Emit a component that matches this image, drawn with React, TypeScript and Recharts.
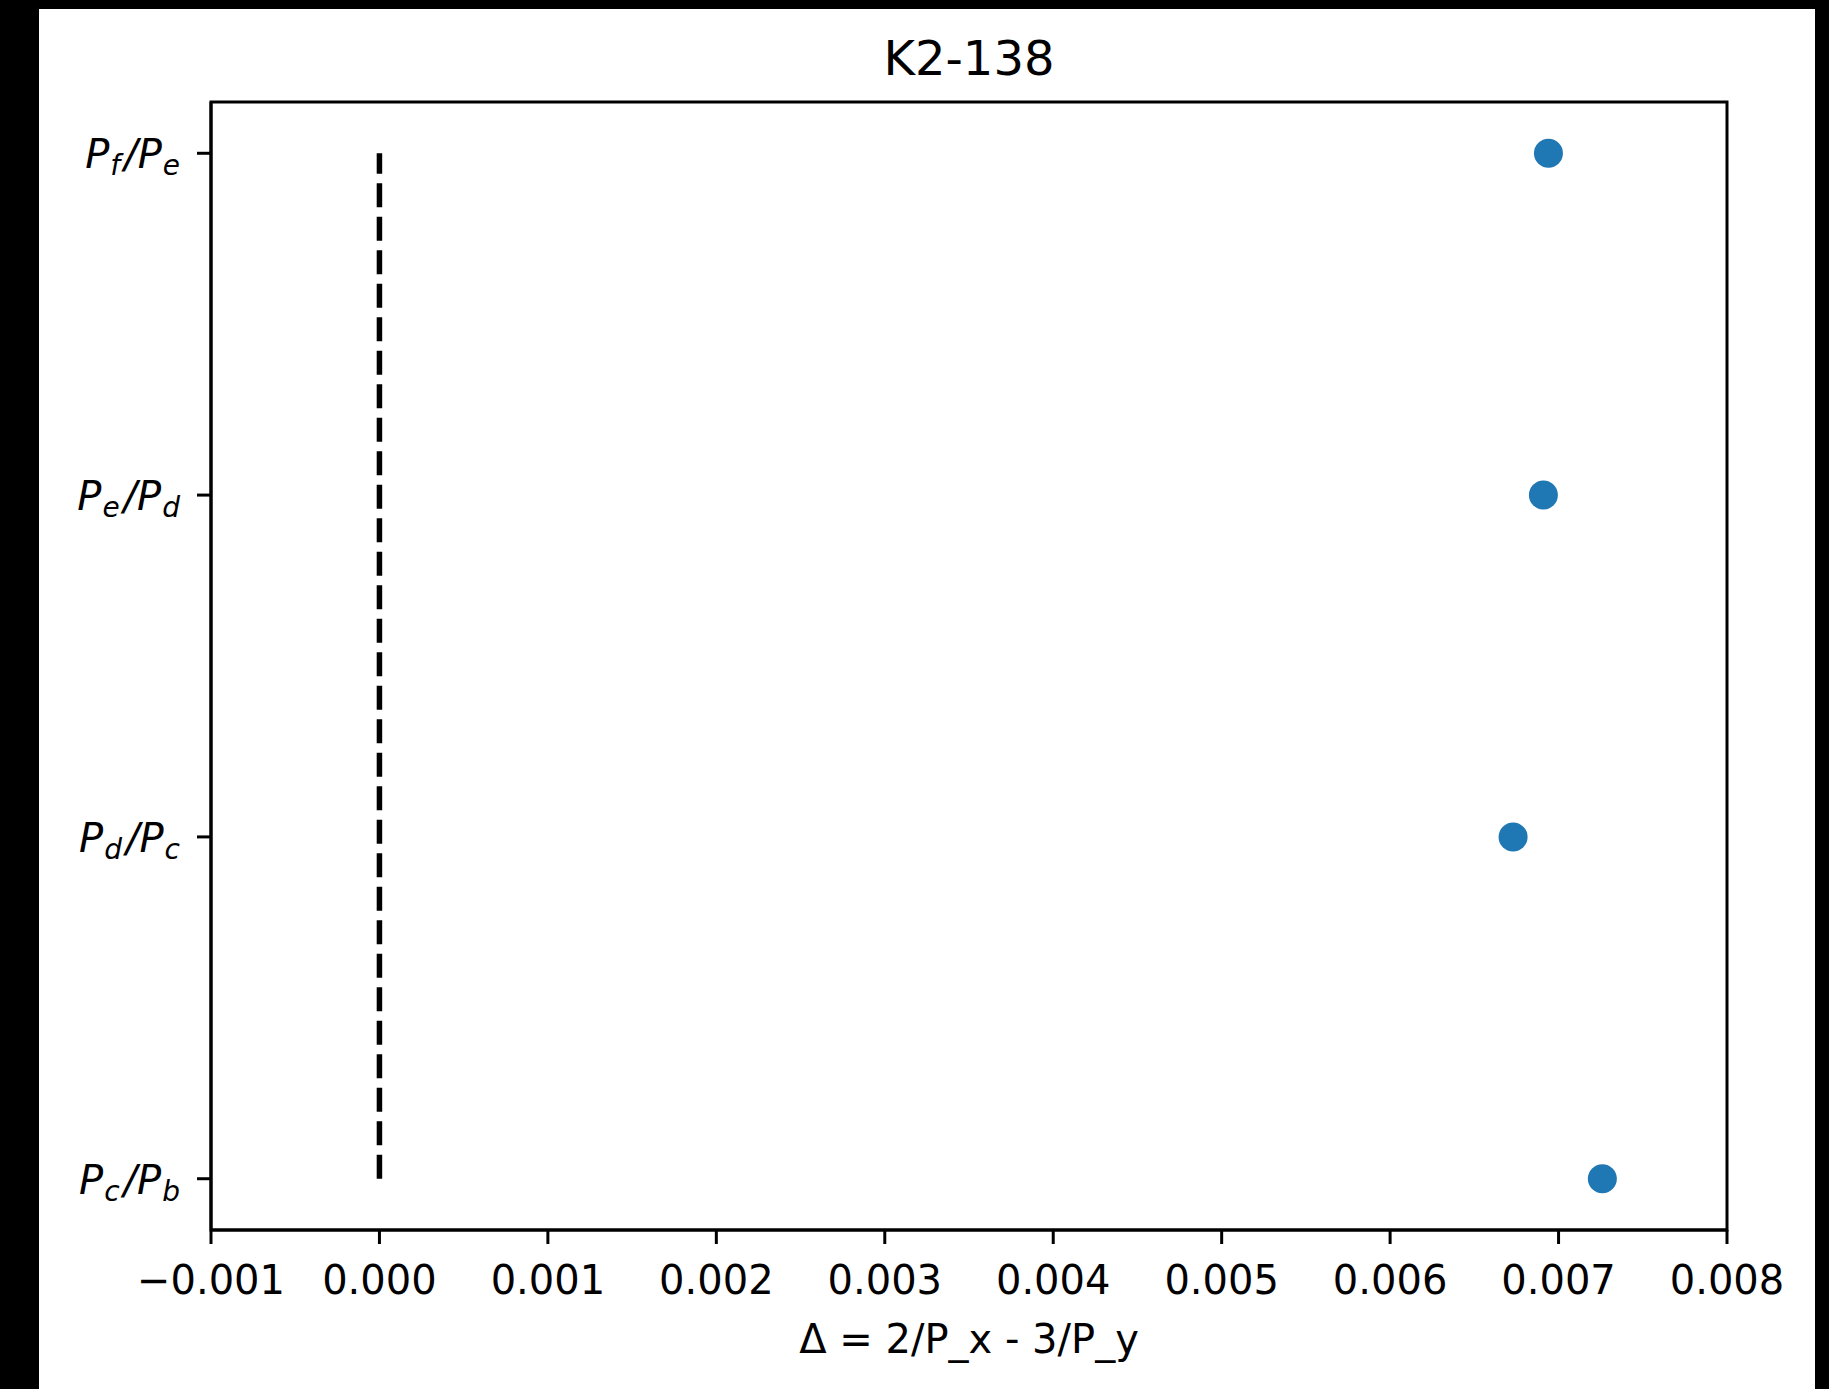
import React from 'react';
import {
  ScatterChart,
  Scatter,
  XAxis,
  YAxis,
  ReferenceLine,
  ReferenceArea,
} from 'recharts';

// ---- data ----
const title = 'K2-138';
const xLabel = 'Δ = 2/P_x - 3/P_y';
const pairOuter = ['c', 'd', 'e', 'f'];
const pairInner = ['b', 'c', 'd', 'e'];
const pairIndex = [0, 1, 2, 3];
const deltaValues = [0.00726, 0.00673, 0.00691, 0.00694];
const xTicks = [-0.001, 0.0, 0.001, 0.002, 0.003, 0.004, 0.005, 0.006, 0.007, 0.008];
const xDomain = [-0.001, 0.008];
const yDomain = [-0.15, 3.15];
const guideX = [0, 0];
const guideY = [0, 3];

const points = pairIndex.map((i) => ({ x: deltaValues[i], y: i }));

const FONT = '"DejaVu Sans", sans-serif';

const fmtX = (v: number) => {
  const s = Math.abs(v).toFixed(3);
  return v < -1e-12 ? '\u2212' + s : s;
};

const YTick = (props: any) => {
  const { x, y, payload } = props;
  const i = Math.round(payload.value);
  if (i < 0 || i > 3) return null;
  return (
    <text
      x={x}
      y={y + 15}
      textAnchor="end"
      fontFamily={FONT}
      fontStyle="italic"
      fontSize={40}
      fill="#000"
    >
      P
      <tspan fontSize={28} dy={7} dx={1}>
        {pairOuter[i]}
      </tspan>
      <tspan dy={-7} dx={4}>/P</tspan>
      <tspan fontSize={28} dy={7} dx={1}>
        {pairInner[i]}
      </tspan>
    </text>
  );
};

const Dot = (props: any) => {
  const { cx, cy } = props;
  if (cx == null || cy == null) return null;
  return <circle cx={cx} cy={cy} r={14.5} fill="#1f77b4" />;
};

export default function App() {
  return (
    <div
      style={{
        position: 'absolute',
        left: 0,
        top: 0,
        width: 1829,
        height: 1389,
        background: '#000',
        overflow: 'hidden',
      }}
    >
      <div
        style={{
          position: 'absolute',
          left: 39,
          top: 9,
          width: 1776,
          height: 1380,
          background: '#fff',
        }}
      >
        <ScatterChart
          width={1776}
          height={1380}
          margin={{ top: 93, right: 88, left: 0, bottom: 0 }}
        >
          <XAxis
            type="number"
            dataKey="x"
            domain={xDomain}
            ticks={xTicks}
            tickFormatter={fmtX}
            allowDataOverflow
            height={159}
            tickSize={14}
            tickMargin={22}
            stroke="#000"
            strokeWidth={3}
            tick={{ fontFamily: FONT, fontSize: 40, fill: '#000' }}
            label={{
              value: xLabel,
              position: 'insideBottom',
              offset: 36,
              fontFamily: FONT,
              fontSize: 40,
              fill: '#000',
            }}
          />
          <YAxis
            type="number"
            dataKey="y"
            domain={yDomain}
            ticks={pairIndex}
            allowDataOverflow
            width={172}
            tickSize={14}
            tickMargin={17}
            stroke="#000"
            strokeWidth={3}
            tick={<YTick />}
          />
          <ReferenceArea
            x1={xDomain[0]}
            x2={xDomain[1]}
            y1={yDomain[0]}
            y2={yDomain[1]}
            fill="none"
            fillOpacity={0}
            stroke="#000"
            strokeWidth={3}
            ifOverflow="visible"
            label={{
              value: title,
              position: 'top',
              offset: 27,
              fontFamily: FONT,
              fontSize: 48,
              fill: '#000',
            }}
          />
          <ReferenceLine
            segment={[
              { x: guideX[0], y: guideY[0] },
              { x: guideX[1], y: guideY[1] },
            ]}
            stroke="#000"
            strokeWidth={5.5}
            strokeDasharray="24 9.5"
          />
          <Scatter
            data={points}
            fill="#1f77b4"
            shape={<Dot />}
            isAnimationActive={false}
          />
        </ScatterChart>
      </div>
    </div>
  );
}
